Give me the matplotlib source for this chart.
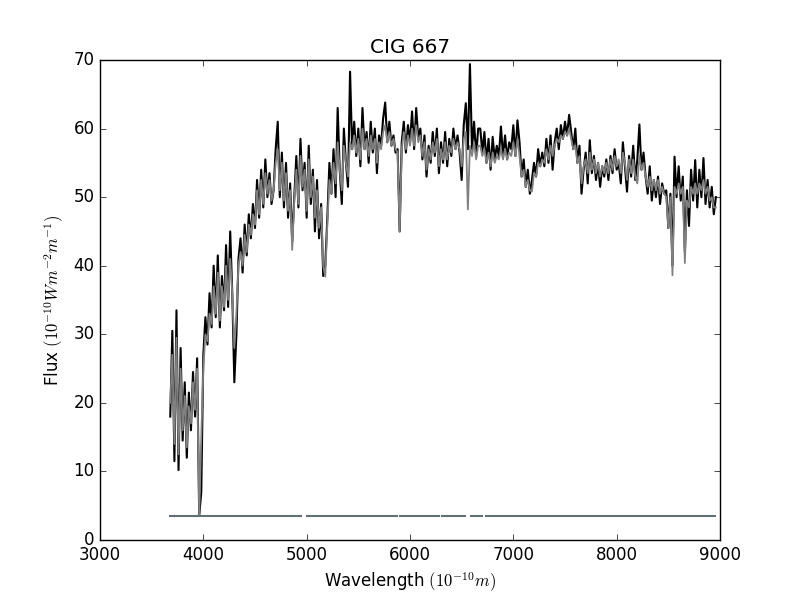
import numpy as np
import matplotlib
matplotlib.use("Agg")
import matplotlib.pyplot as plt

plt.style.use('classic')

# wavelength grid, 20 A steps (3680 .. 8960)
wave = np.arange(3680, 8961, 20)

# observed flux (black)
obs = [
    18.0, 30.5, 11.5, 33.5, 10.2, 28.0, 14.5, 23.0, 12.0, 21.5,
    16.0, 24.5, 18.0, 26.5, 3.5, 7.0, 27.0, 32.5, 28.5, 36.0,
    31.0, 40.0, 32.5, 41.5, 31.0, 38.5, 33.5, 43.0, 34.0, 45.0,
    36.0, 23.0, 30.0, 41.0, 44.0, 39.0, 46.0, 41.5, 47.5, 44.0,
    49.0, 45.5, 52.5, 47.0, 54.0, 48.5, 55.5, 50.0, 53.5, 49.0,
    51.0, 57.0, 61.0, 50.0, 56.5, 48.5, 55.0, 47.0, 52.0, 43.5,
    50.0, 56.0, 48.5, 58.5, 51.0, 55.0, 47.0, 57.5, 49.0, 54.0,
    45.0, 52.5, 44.0, 49.0, 38.5, 40.0, 47.0, 55.0, 50.5, 57.0,
    50.0, 63.0, 54.0, 49.0, 60.0, 55.0, 51.5, 68.3, 57.0, 61.0,
    56.0, 60.0, 54.5, 63.0, 57.0, 59.5, 55.0, 61.0, 56.5, 60.0,
    53.5, 59.0, 57.5, 61.5, 63.8, 58.0, 61.0, 57.5, 59.0, 56.5,
    57.0, 45.0, 58.0, 61.0, 56.5, 60.5, 58.0, 62.5, 57.0, 63.0,
    58.5, 60.0, 55.5, 59.0, 53.0, 57.5, 55.0, 59.5, 56.0, 60.0,
    53.5, 58.0, 55.0, 59.5, 54.5, 58.5, 56.0, 60.0, 57.0, 59.0,
    56.5, 52.5, 60.5, 63.7, 57.0, 69.4, 57.0, 61.0, 56.0, 60.0,
    60.0, 56.5, 59.5, 55.0, 58.5, 54.0, 58.8, 55.5, 57.5, 56.0,
    60.3, 56.0, 59.0, 55.5, 58.0, 57.0, 60.5, 56.0, 61.2, 58.0,
    53.0, 55.5, 51.5, 54.0, 50.5, 52.5, 55.0, 53.0, 57.0, 54.5,
    56.5, 54.5, 58.5, 55.0, 59.0, 54.0, 58.0, 60.0, 57.0, 60.5,
    58.5, 61.0, 59.0, 62.0, 59.5, 57.0, 60.0, 55.0, 57.5, 50.5,
    54.0, 56.5, 52.0, 58.3, 53.5, 56.0, 52.5, 55.0, 51.5, 54.5,
    53.0, 55.5, 52.5, 56.0, 53.5, 57.0, 54.0, 55.0, 52.0, 58.0,
    54.5, 50.8, 56.0, 53.0, 57.5, 52.5, 55.5, 60.6, 54.0, 56.5,
    53.0, 50.5, 54.5, 49.5, 52.5, 50.0, 53.0, 49.0, 52.0, 50.5,
    51.0, 45.5, 50.5, 40.0, 55.9, 50.0, 54.5, 49.5, 53.0, 42.0,
    51.0, 45.8, 54.0, 49.5, 55.4, 48.5, 54.0, 50.0, 55.7, 49.0,
    52.5, 48.5, 51.5, 47.5, 50.0,
]

# synthetic fit (gray)
model = [
    20.0, 27.0, 14.0, 29.5, 12.5, 25.0, 16.0, 21.0, 13.5, 19.5,
    17.0, 23.0, 19.0, 25.0, 3.5, 15.0, 25.0, 30.0, 29.0, 33.0,
    31.5, 37.0, 33.0, 39.0, 32.0, 37.0, 34.0, 40.0, 35.0, 41.0,
    36.0, 28.0, 33.0, 40.0, 42.0, 40.0, 44.5, 42.0, 46.0, 44.5,
    47.5, 46.0, 51.0, 47.5, 52.5, 49.0, 53.5, 50.5, 52.5, 49.5,
    51.0, 55.0, 57.0, 51.0, 55.0, 49.5, 53.5, 48.0, 51.0, 42.3,
    49.5, 54.0, 49.0, 56.0, 51.5, 54.0, 48.0, 55.5, 50.0, 53.0,
    47.0, 51.0, 45.5, 48.5, 40.0, 38.4, 46.0, 52.5, 50.5, 55.0,
    52.0, 58.0, 54.0, 51.0, 57.5, 55.0, 53.0, 58.0, 57.0, 59.0,
    56.5, 58.5, 55.5, 60.0, 57.0, 58.5, 56.0, 59.0, 57.0, 58.5,
    55.0, 58.0, 57.0, 59.5, 60.5, 58.0, 59.5, 57.5, 58.5, 57.0,
    56.5, 45.0, 57.0, 59.5, 57.0, 59.0, 57.5, 60.0, 57.5, 60.5,
    58.0, 59.0, 56.0, 58.0, 54.0, 57.0, 55.5, 58.0, 56.5, 58.5,
    54.5, 57.0, 55.5, 58.0, 55.5, 57.5, 56.5, 58.5, 57.0, 58.0,
    57.0, 54.5, 58.5, 59.5, 48.2, 57.5, 56.0, 58.0, 55.5, 57.5,
    57.5, 56.0, 57.0, 55.0, 56.5, 54.5, 56.5, 55.0, 56.0, 55.5,
    57.0, 55.5, 57.0, 55.5, 56.5, 56.0, 58.0, 56.0, 58.5, 56.0,
    53.0, 54.0, 51.5, 52.5, 51.0, 50.8, 53.5, 53.0, 55.0, 54.5,
    55.5, 55.0, 57.0, 55.5, 57.5, 56.0, 57.5, 58.5, 58.0, 59.0,
    58.5, 59.5, 59.0, 60.0, 58.5, 57.0, 57.5, 55.0, 56.0, 52.0,
    54.5, 55.5, 53.5, 56.5, 54.0, 55.5, 53.5, 55.0, 53.0, 54.5,
    53.5, 55.0, 53.5, 55.5, 54.0, 56.0, 54.5, 55.5, 53.5, 56.5,
    55.0, 52.5, 55.5, 53.5, 55.5, 53.0, 52.0, 56.0, 54.0, 55.0,
    53.0, 51.5, 53.0, 51.0, 52.5, 51.0, 52.5, 50.5, 51.5, 50.5,
    50.0, 45.5, 50.0, 38.6, 51.5, 50.5, 52.0, 50.5, 51.5, 40.4,
    49.5, 48.5, 51.5, 50.5, 52.0, 50.5, 52.0, 51.0, 52.5, 50.5,
    51.5, 49.5, 50.0, 48.5, 48.5,
]

# unmasked wavelength ranges (line drawn at a constant level)
mask_start = [3680, 3727, 3872, 4104, 4858, 5008, 5903, 6310, 6593, 6735]
mask_end = [3716, 3862, 4092, 4848, 4942, 5871, 6281, 6532, 6697, 8952]
mask_level = 3.5

fig = plt.figure(figsize=(8, 6), dpi=100, facecolor='white')
ax = fig.add_subplot(111)

ax.plot(wave, obs, color='black', lw=1.5)
ax.plot(wave, model, color='#808080', lw=1.3)
for a, b in zip(mask_start, mask_end):
    ax.plot([a, b], [mask_level, mask_level], color='#607075', lw=1.5)

ax.set_xlim(3000, 9000)
ax.set_ylim(0, 70)
ax.set_title('CIG 667')
ax.set_xlabel(r'Wavelength $(10^{-10}m)$')
ax.set_ylabel(r'Flux $(10^{-10}Wm^{-2}m^{-1})$')

fig.savefig('out.png', dpi=100, facecolor='white')
